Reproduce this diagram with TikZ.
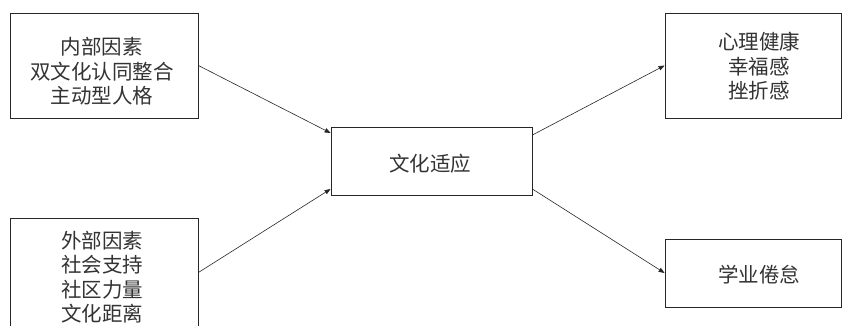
\documentclass[tikz,border=0pt]{standalone}
\usepackage{fontspec}
\usepackage{tikz}
\usetikzlibrary{arrows.meta}
\newfontfamily\cjk{Noto Sans CJK SC}

\tikzset{
    box/.style={draw=black!85, line width=0.8pt, fill=white, inner sep=0pt},
    txt/.style={align=center, inner sep=0pt, text=black!80,
        font=\cjk\fontsize{20.5}{24.5}\selectfont},
    link/.style={draw=black!85, line width=0.6pt, -{Triangle[length=6pt,width=4.5pt]}}
}

\begin{document}
\begin{tikzpicture}[x=1pt, y=-1pt]
    \useasboundingbox (0,0) rectangle (843,325);
    \node[box, minimum width=188pt, minimum height=105pt] (inner) at (104,65.5) {};
    \node[box, minimum width=188pt, minimum height=109pt] (outer) at (104,272.5) {};
    \node[box, minimum width=201pt, minimum height=68pt] (adapt) at (431.5,161) {};
    \node[box, minimum width=176pt, minimum height=105pt] (health) at (753,65.5) {};
    \node[box, minimum width=176pt, minimum height=68pt] (burnout) at (753,273) {};
    \node[txt] (innertext) at (102,71.5) {内部因素\\双文化认同整合\\主动型人格};
    \node[txt] (outertext) at (102,277) {外部因素\\社会支持\\社区力量\\文化距离};
    \node[txt] (adapttext) at (430,164) {文化适应};
    \node[txt] (healthtext) at (759,66.5) {心理健康\\幸福感\\挫折感};
    \node[txt] (burnouttext) at (759,275) {学业倦怠};
    \draw[link] (inner.east) -- ([yshift=28pt]adapt.west);
    \draw[link] (outer.east) -- ([yshift=-28pt]adapt.west);
    \draw[link] ([yshift=26pt]adapt.east) -- (health.west);
    \draw[link] ([yshift=-28pt]adapt.east) -- (burnout.west);
\end{tikzpicture}
\end{document}
